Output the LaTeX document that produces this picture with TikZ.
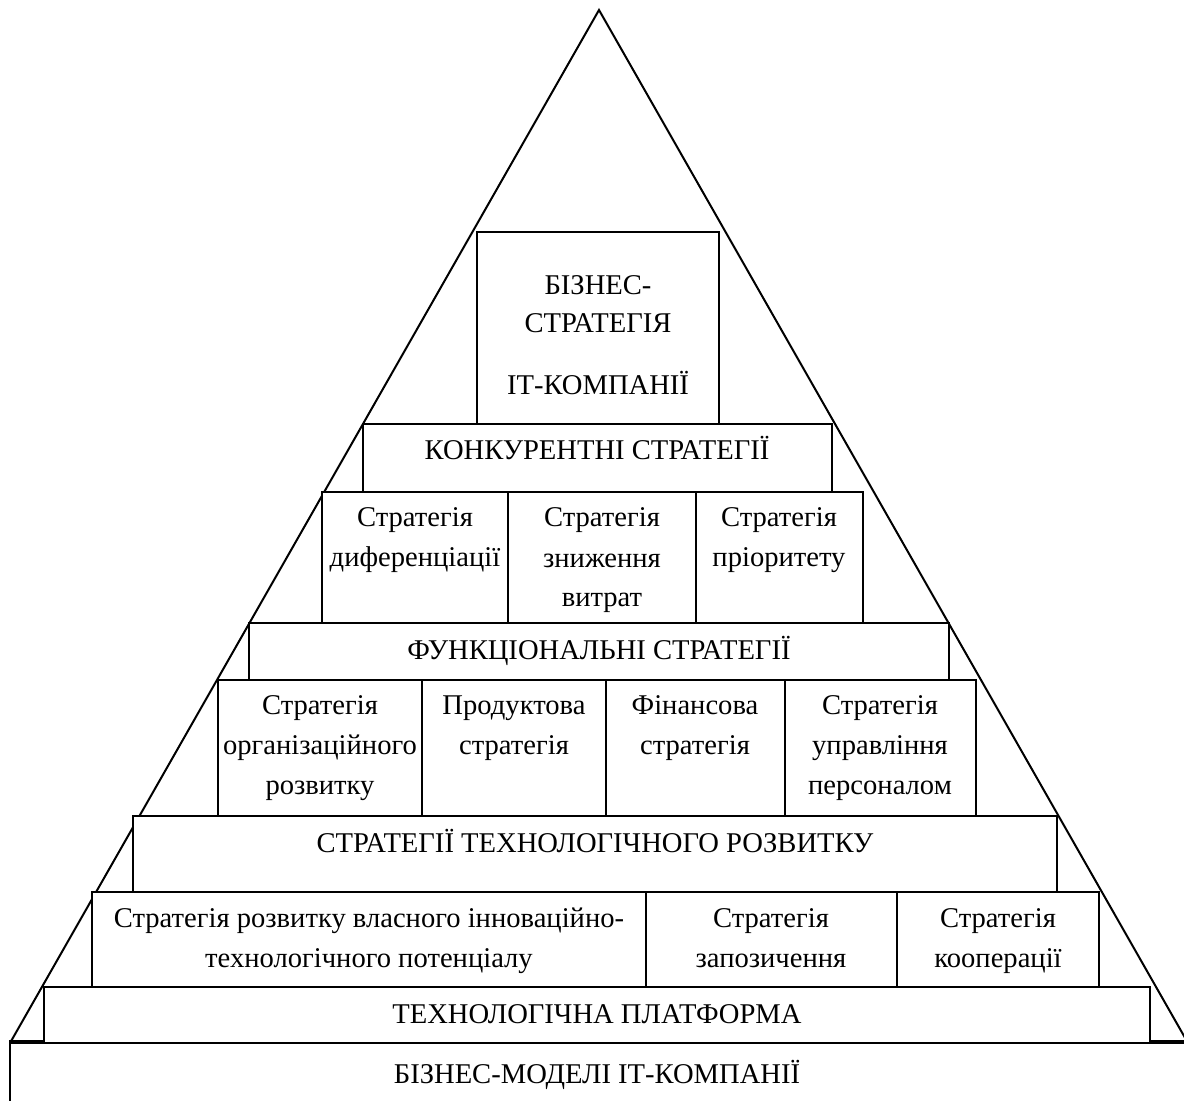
\documentclass[tikz,border=0pt]{standalone}
\usepackage{fontspec}
\setmainfont{Liberation Serif}
\usetikzlibrary{fit}
\begin{document}
\begin{tikzpicture}[x=0.5pt,y=-0.5pt,
  blk/.style={draw, line width=1pt, fill=white, inner sep=0pt},
  lbl/.style={anchor=base, align=center, inner sep=0pt, font=\fontsize{14.3}{20}\selectfont}]
\useasboundingbox (0,0) rectangle (1184,1101);
\clip (0,0) rectangle (1184,1101);
% pyramid outline
\coordinate (apex) at (599,10);
\coordinate (bl) at (10,1043);
\coordinate (br) at (1188,1043);
\draw[line width=1pt] (bl) -- (apex) -- (br);
% bottom: business models
\node[blk, fit={(10,1043) (1260,1160)}] (bm) {};
\draw[line width=1.6pt] (bm.north west) -- (bm.north east);
% platform
\node[blk, fit={(44,987) (1150,1043)}] (tp) {};
% row 7
\node[blk, fit={(92,892) (646,987)}] (r7a) {};
\node[blk, fit={(646,892) (897,987)}] (r7b) {};
\node[blk, fit={(897,892) (1099,987)}] (r7c) {};
% technological development
\node[blk, fit={(133,816) (1057,892)}] (td) {};
% row 5
\node[blk, fit={(218,680) (422,816)}] (r5a) {};
\node[blk, fit={(422,680) (606,816)}] (r5b) {};
\node[blk, fit={(606,680) (785,816)}] (r5c) {};
\node[blk, fit={(785,680) (976,816)}] (r5d) {};
% functional
\node[blk, fit={(249,623) (949,680)}] (fs) {};
% row 3
\node[blk, fit={(322,492) (508,623)}] (r3a) {};
\node[blk, fit={(508,492) (696,623)}] (r3b) {};
\node[blk, fit={(696,492) (863,623)}] (r3c) {};
% competitive
\node[blk, fit={(363,424) (832,492)}] (cs) {};
% top
\node[blk, fit={(477,232) (719,424)}] (top) {};
% labels (anchor = baseline of last line)
\node[lbl] (ttop) at (598,395) {БІЗНЕС-\\[-1pt]СТРАТЕГІЯ\\[11pt]ІТ-КОМПАНІЇ};
\node[lbl] (tcs) at (597,460) {КОНКУРЕНТНІ СТРАТЕГІЇ};
\node[lbl] (t3a) at (415,567) {Стратегія\\диференціації};
\node[lbl] (t3b) at (602,607) {Стратегія\\зниження\\витрат};
\node[lbl] (t3c) at (779,567) {Стратегія\\пріоритету};
\node[lbl] (tfs) at (599,660) {ФУНКЦІОНАЛЬНІ СТРАТЕГІЇ};
\node[lbl] (t5a) at (320,794) {Стратегія\\організаційного\\розвитку};
\node[lbl] (t5b) at (514,754) {Продуктова\\стратегія};
\node[lbl] (t5c) at (695,754) {Фінансова\\стратегія};
\node[lbl] (t5d) at (880,794) {Стратегія\\управління\\персоналом};
\node[lbl] (ttd) at (595,852) {СТРАТЕГІЇ ТЕХНОЛОГІЧНОГО РОЗВИТКУ};
\node[lbl] (t7a) at (369,967) {Стратегія розвитку власного інноваційно-\\технологічного потенціалу};
\node[lbl] (t7b) at (771,967) {Стратегія\\запозичення};
\node[lbl] (t7c) at (998,967) {Стратегія\\кооперації};
\node[lbl] (ttp) at (597,1023) {ТЕХНОЛОГІЧНА ПЛАТФОРМА};
\node[lbl] (tbm) at (597,1083) {БІЗНЕС-МОДЕЛІ ІТ-КОМПАНІЇ};
\end{tikzpicture}
\end{document}
